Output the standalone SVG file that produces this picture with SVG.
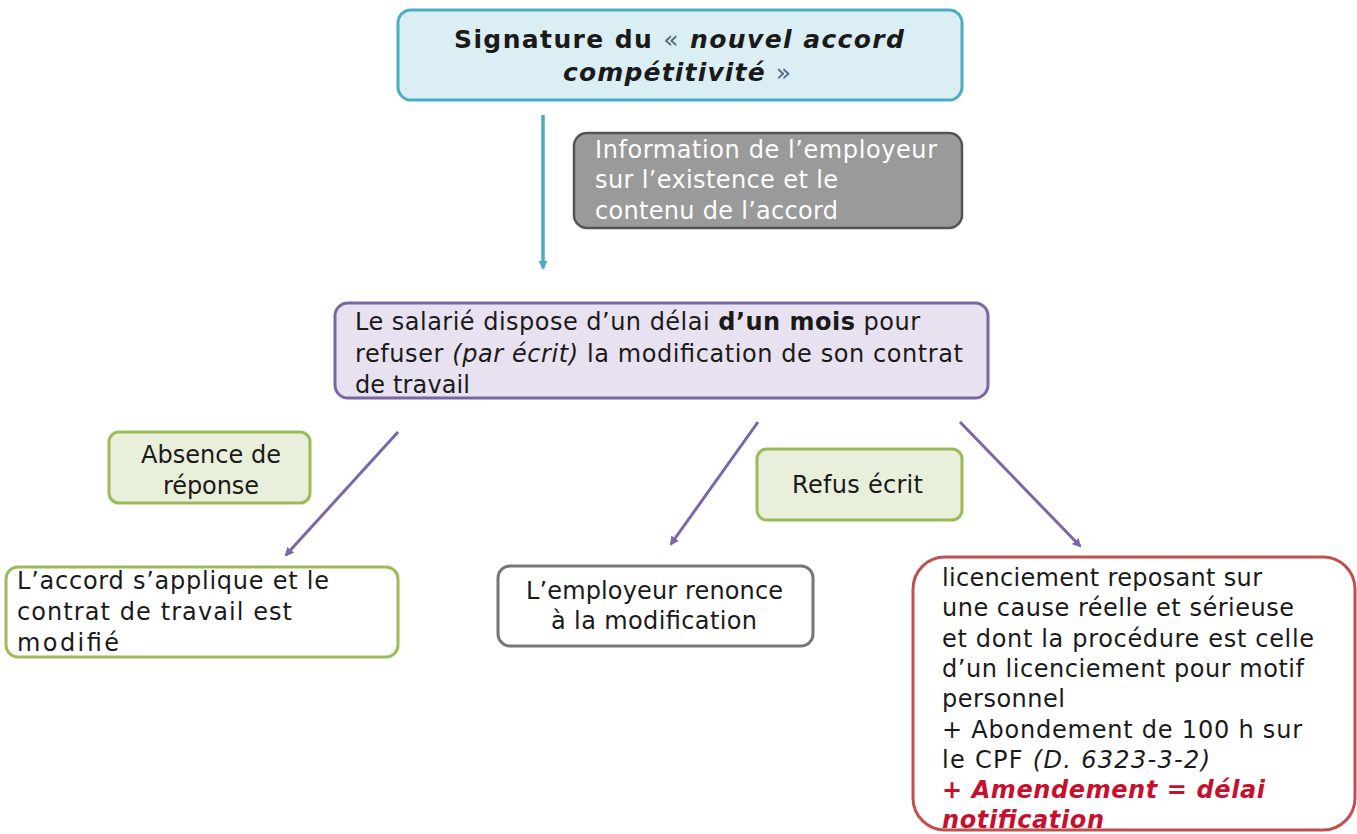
<svg xmlns="http://www.w3.org/2000/svg" width="1357" height="834" viewBox="0 0 1357 834">
<defs>
<style>
.t{font-family:"DejaVu Sans",Verdana,sans-serif;font-size:24px;fill:#1a1a1a}
.title{font-family:"DejaVu Sans",Verdana,sans-serif;font-size:25px;font-weight:bold;fill:#1a1a1a}
.w{fill:#ffffff}
.b{font-weight:bold}
.i{font-style:italic}
.red{fill:#c8102e;font-weight:bold;font-style:italic}
.conn{stroke:#7b66a8;stroke-width:3;fill:none}
</style>
<marker id="ap" markerWidth="10" markerHeight="10" refX="7" refY="5" orient="auto" markerUnits="userSpaceOnUse">
<path d="M0,0.5 L9,5 L0,9.5 Z" fill="#7b66a8"/>
</marker>
<marker id="at" markerWidth="10" markerHeight="10" refX="7" refY="5" orient="auto" markerUnits="userSpaceOnUse">
<path d="M0,0.5 L9,5 L0,9.5 Z" fill="#4bacc6"/>
</marker>
</defs>
<rect width="1357" height="834" fill="#ffffff"/>

<g id="connectors">
<line x1="543" y1="115" x2="543" y2="268" stroke="#4bacc6" stroke-width="3.5" marker-end="url(#at)"/>
<line class="conn" x1="398" y1="432" x2="286" y2="555" marker-end="url(#ap)"/>
<line class="conn" x1="758" y1="422" x2="671" y2="544" marker-end="url(#ap)"/>
<line class="conn" x1="960" y1="422" x2="1080" y2="546" marker-end="url(#ap)"/>
</g>

<g id="n-signature">
<rect x="398" y="10" width="564" height="90" rx="13" fill="#daeef3" stroke="#4bacc6" stroke-width="3"/>
<text class="title" x="454" y="48" textLength="450">Signature du <tspan font-weight="normal" fill="#4a6a80">«</tspan> <tspan class="i">nouvel accord</tspan></text>
<text class="title" x="563" y="81" textLength="228"><tspan class="i">compétitivité</tspan> <tspan font-weight="normal" fill="#4a6a80">»</tspan></text>
</g>

<g id="n-information">
<rect x="574" y="133" width="388" height="95" rx="13" fill="#9a9a9a" stroke="#555555" stroke-width="2.5"/>
<text class="t w" x="595" y="158" textLength="342">Information de l’employeur</text>
<text class="t w" x="595" y="188" textLength="243">sur l’existence et le</text>
<text class="t w" x="595" y="219" textLength="243">contenu de l’accord</text>
</g>

<g id="n-delai">
<rect x="335" y="303" width="653" height="95" rx="13" fill="#e8e2f0" stroke="#7a66a0" stroke-width="3"/>
<text class="t" x="355" y="330" textLength="565">Le salarié dispose d’un délai <tspan class="b">d’un mois</tspan> pour</text>
<text class="t" x="355" y="362" textLength="608">refuser <tspan class="i">(par écrit)</tspan> la modification de son contrat</text>
<text class="t" x="355" y="393" textLength="115">de travail</text>
</g>

<g id="n-absence">
<rect x="109" y="432" width="201" height="71" rx="10" fill="#e8efda" stroke="#9bbb59" stroke-width="3"/>
<text class="t" x="141" y="463" textLength="140">Absence de</text>
<text class="t" x="163" y="494" textLength="96">réponse</text>
</g>

<g id="n-refus">
<rect x="757" y="449" width="205" height="71" rx="10" fill="#e8efda" stroke="#9bbb59" stroke-width="3"/>
<text class="t" x="792" y="493" textLength="131">Refus écrit</text>
</g>

<g id="n-accord">
<rect x="6" y="567" width="392" height="90" rx="12" fill="#ffffff" stroke="#9bbb59" stroke-width="3"/>
<text class="t" x="17" y="589" textLength="312">L’accord s’applique et le</text>
<text class="t" x="17" y="620" textLength="275">contrat de travail est</text>
<text class="t" x="17" y="651" textLength="102">modifié</text>
</g>

<g id="n-renonce">
<rect x="498" y="566" width="315" height="80" rx="12" fill="#ffffff" stroke="#777777" stroke-width="3"/>
<text class="t" x="526" y="599" textLength="257">L’employeur renonce</text>
<text class="t" x="551" y="629" textLength="206">à la modification</text>
</g>

<g id="n-licenciement">
<rect x="913" y="557" width="442" height="273" rx="32" fill="#ffffff" stroke="#c0504d" stroke-width="3"/>
<text class="t" x="942" y="586" textLength="320">licenciement reposant sur</text>
<text class="t" x="942" y="616" textLength="352">une cause réelle et sérieuse</text>
<text class="t" x="942" y="647" textLength="372">et dont la procédure est celle</text>
<text class="t" x="942" y="677" textLength="362">d’un licenciement pour motif</text>
<text class="t" x="942" y="707" textLength="123">personnel</text>
<text class="t" x="942" y="738" textLength="360">+ Abondement de 100 h sur</text>
<text class="t" x="942" y="768" textLength="268">le CPF <tspan class="i">(D. 6323-3-2)</tspan></text>
<text class="t red" x="942" y="798" textLength="323">+ Amendement = délai</text>
<text class="t red" x="942" y="828" textLength="162">notification</text>
</g>
</svg>
